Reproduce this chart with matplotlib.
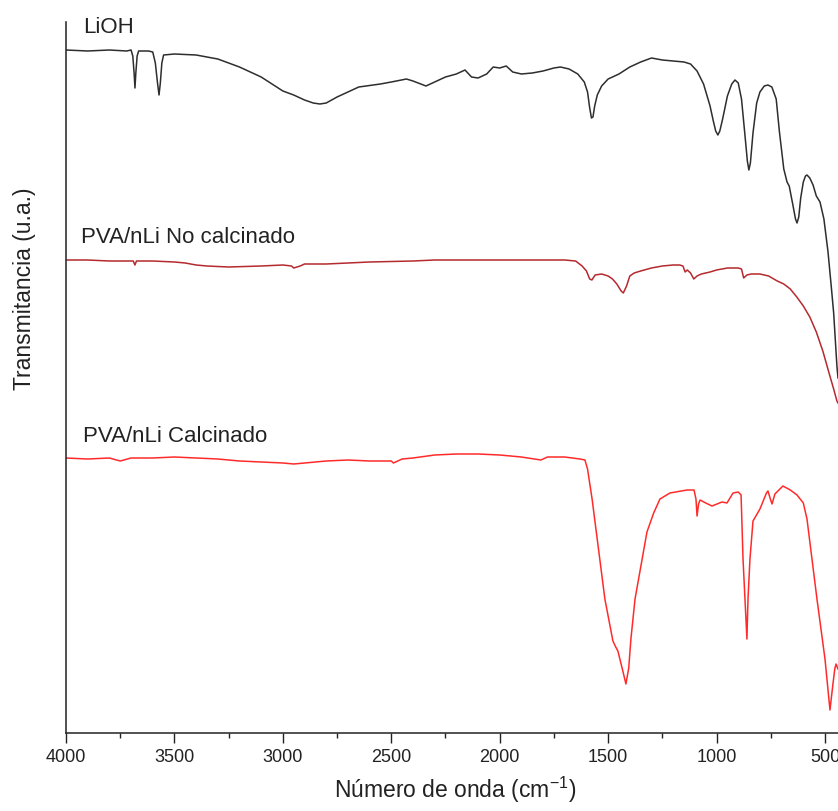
import numpy as np
import matplotlib
matplotlib.use("Agg")
from matplotlib import pyplot as plt
from matplotlib.ticker import MultipleLocator

plt.rcParams['font.family'] = ['Liberation Sans', 'DejaVu Sans']
plt.rcParams['mathtext.fontset'] = 'custom'
plt.rcParams['mathtext.rm'] = 'Liberation Sans'
plt.rcParams['mathtext.default'] = 'regular'

# FTIR spectra (wavenumber cm-1, transmittance a.u. with offsets)
lioh_wn = [4000, 3900, 3800, 3720, 3700, 3692, 3686, 3682, 3678, 3672, 3665, 3620, 3600, 3588,
           3578, 3571, 3565, 3558, 3550, 3500, 3400, 3300, 3200, 3100, 3000, 2950, 2900, 2860,
           2829, 2800, 2750, 2650, 2550, 2500, 2430, 2400, 2340, 2300, 2250, 2200, 2160, 2130,
           2100, 2060, 2030, 2000, 1970, 1940, 1900, 1850, 1800, 1750, 1720, 1680, 1640, 1610,
           1595, 1585, 1577, 1570, 1562, 1550, 1530, 1500, 1450, 1400, 1350, 1300, 1250, 1200,
           1150, 1120, 1090, 1060, 1030, 1015, 1004, 994, 985, 972, 950, 930, 915, 900, 885, 870,
           858, 851, 844, 832, 815, 800, 780, 763, 745, 725, 710, 690, 675, 665, 648, 636, 629,
           621, 612, 600, 590, 583, 570, 555, 540, 523, 505, 486, 470, 460, 445, 440]
lioh_t = [6.83, 6.82, 6.83, 6.82, 6.83, 6.77, 6.60, 6.45, 6.60, 6.77, 6.82, 6.82, 6.81, 6.70,
          6.50, 6.38, 6.50, 6.70, 6.78, 6.79, 6.78, 6.74, 6.66, 6.56, 6.42, 6.38, 6.33, 6.30,
          6.29, 6.30, 6.36, 6.46, 6.49, 6.51, 6.54, 6.52, 6.47, 6.51, 6.56, 6.59, 6.63, 6.56,
          6.55, 6.59, 6.66, 6.65, 6.67, 6.61, 6.59, 6.60, 6.62, 6.65, 6.66, 6.64, 6.59, 6.51,
          6.41, 6.25, 6.15, 6.16, 6.27, 6.38, 6.47, 6.54, 6.59, 6.66, 6.71, 6.75, 6.73, 6.72,
          6.71, 6.69, 6.62, 6.49, 6.27, 6.12, 6.02, 5.98, 6.02, 6.14, 6.37, 6.49, 6.53, 6.50, 6.34,
          6.00, 5.72, 5.63, 5.70, 6.00, 6.30, 6.41, 6.47, 6.48, 6.46, 6.34, 6.01, 5.64, 5.51, 5.47,
          5.28, 5.14, 5.10, 5.16, 5.35, 5.51, 5.57, 5.58, 5.55, 5.48, 5.37, 5.31, 5.14, 4.81, 4.44,
          4.20, 3.67, 3.55]

nocal_wn = [4000, 3900, 3800, 3700, 3690, 3682, 3675, 3600, 3500, 3450, 3400, 3350, 3250, 3100,
            3000, 2960, 2950, 2935, 2920, 2900, 2800, 2600, 2400, 2300, 2000, 1800, 1700, 1650,
            1620, 1600, 1585, 1575, 1560, 1530, 1500, 1480, 1460, 1440, 1430, 1415, 1400, 1380,
            1350, 1300, 1250, 1200, 1170, 1155, 1145, 1135, 1120, 1105, 1090, 1070, 1030, 1000,
            950, 900, 885, 875, 860, 840, 800, 760, 720, 690, 660, 630, 600, 570, 540, 510, 480,
            460, 445, 440]
nocal_t = [4.73, 4.73, 4.72, 4.72, 4.72, 4.68, 4.72, 4.72, 4.71, 4.70, 4.68, 4.67, 4.66, 4.67,
           4.68, 4.67, 4.65, 4.66, 4.67, 4.69, 4.69, 4.71, 4.72, 4.73, 4.73, 4.73, 4.73, 4.72,
           4.67, 4.62, 4.54, 4.53, 4.58, 4.59, 4.57, 4.54, 4.49, 4.42, 4.40, 4.47, 4.57, 4.60,
           4.62, 4.65, 4.67, 4.68, 4.68, 4.67, 4.61, 4.63, 4.60, 4.54, 4.57, 4.59, 4.61, 4.63,
           4.65, 4.65, 4.64, 4.55, 4.58, 4.59, 4.59, 4.57, 4.52, 4.49, 4.44, 4.36, 4.27, 4.16,
           4.01, 3.82, 3.59, 3.44, 3.32, 3.30]

cal_wn = [4000, 3900, 3800, 3750, 3700, 3600, 3500, 3400, 3300, 3200, 3100, 3000, 2950, 2900,
          2800, 2700, 2600, 2500, 2490, 2450, 2400, 2300, 2200, 2100, 2000, 1900, 1810, 1780,
          1700, 1630, 1607, 1595, 1574, 1515, 1478, 1465, 1455, 1430, 1418, 1405, 1395, 1376,
          1321, 1290, 1261, 1215, 1136, 1104, 1095, 1090, 1083, 1076, 1050, 1021, 975, 952, 924,
          900, 887, 878, 869, 860, 855, 846, 832, 800, 770, 763, 752, 744, 731, 694, 660, 629,
          600, 583, 537, 500, 477, 466, 455, 449, 440]
cal_t = [2.75, 2.74, 2.75, 2.72, 2.75, 2.75, 2.76, 2.75, 2.74, 2.72, 2.71, 2.70, 2.69, 2.70,
         2.72, 2.73, 2.72, 2.72, 2.70, 2.74, 2.75, 2.78, 2.79, 2.79, 2.78, 2.76, 2.73, 2.76,
         2.76, 2.74, 2.73, 2.64, 2.34, 1.34, 0.92, 0.86, 0.82, 0.60, 0.49, 0.65, 0.94, 1.34,
         2.01, 2.20, 2.34, 2.40, 2.43, 2.43, 2.34, 2.17, 2.29, 2.33, 2.30, 2.27, 2.31, 2.30, 2.40,
         2.41, 2.38, 1.74, 1.34, 0.94, 1.34, 1.74, 2.12, 2.24, 2.40, 2.42, 2.34, 2.29, 2.39, 2.47,
         2.43, 2.38, 2.30, 2.14, 1.34, 0.74, 0.23, 0.44, 0.64, 0.69, 0.64]

names = ['LiOH', 'PVA/nLi No calcinado', 'PVA/nLi Calcinado']
colors = ['#2e2e2e', '#b52a2e', '#ff2b2b']
label_pos = [(3922, 7.01), (3931, 4.91), (3922, 2.92)]

fig = plt.figure(figsize=(8.38, 8.12), dpi=100)
ax = fig.add_axes([66 / 838, 78 / 812, 772 / 838, 711 / 812])

series = [(lioh_wn, lioh_t), (nocal_wn, nocal_t), (cal_wn, cal_t)]
for (wn, t), c in zip(series, colors):
    ax.plot(wn, t, color=c, lw=1.1, solid_joinstyle='round')

for name, (x, y) in zip(names, label_pos):
    ax.text(x, y, name, fontsize=16, color='#222222', va='baseline', ha='left')

ax.set_xlim(4000, 440)
ax.set_ylim(0, 7.11)
ax.xaxis.set_major_locator(MultipleLocator(500))
ax.xaxis.set_minor_locator(MultipleLocator(250))
ax.set_yticks([])
for s in ['top', 'right']:
    ax.spines[s].set_visible(False)
for s in ['left', 'bottom']:
    ax.spines[s].set_linewidth(1.1)
    ax.spines[s].set_color('#222222')
ax.tick_params(axis='x', which='major', direction='out', length=7, width=1.0,
               labelsize=13, pad=3.5, colors='#222222')
ax.tick_params(axis='x', which='minor', direction='out', length=3.5, width=1.0,
               colors='#222222')

fig.text(455 / 838, 1 - 798 / 812, 'Número de onda (cm$^{-1}$)', fontsize=16.5,
         ha='center', va='baseline', color='#222222')
fig.text(25 / 838, 1 - 289 / 812, 'Transmitancia (u.a.)', fontsize=16.5, rotation=90,
         ha='center', va='center', color='#222222')

fig.savefig('out.png', dpi=100)
